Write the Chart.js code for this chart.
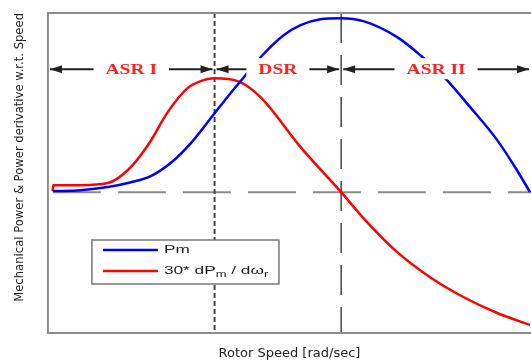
<!DOCTYPE html>
<html>
<head>
<meta charset="utf-8">
<script src="https://cdn.jsdelivr.net/npm/chart.js@4"></script>
<style>
html, body { margin: 0; padding: 0; background: #fff; overflow: hidden; }
#wrap { width: 531px; height: 360px; }
</style>
</head>
<body>
<div id="wrap"><canvas id="chart"></canvas></div>
<script>
// Data (x: rotor speed, normalised 0-100; y: normalised power)
const pmSpeed = [1.0, 6.8, 12.4, 17.2, 21.3, 25.4, 29.6, 34.5, 37.8, 40.9, 44.4, 48.8, 52.3, 56.4, 60.7, 65.3, 72.3, 77.1, 82.2, 87.4, 93.0, 97.1, 99.8];
const pm = [0.006, 0.011, 0.029, 0.057, 0.092, 0.167, 0.282, 0.454, 0.569, 0.672, 0.787, 0.902, 0.960, 0.994, 1.0, 0.983, 0.891, 0.787, 0.655, 0.489, 0.299, 0.126, 0.0];

const dPmSpeed = [1.0, 1.1, 6.8, 12.4, 16.5, 20.7, 24.8, 28.9, 31.6, 34.5, 39.3, 44.0, 52.3, 60.7, 65.3, 72.3, 79.1, 86.0, 93.0, 99.8];
const dPm = [0.006, 0.040, 0.040, 0.052, 0.126, 0.270, 0.460, 0.598, 0.638, 0.655, 0.638, 0.546, 0.259, 0.0, -0.149, -0.345, -0.489, -0.603, -0.695, -0.764];

const regionEdges = [0, 34.5, 60.7, 100];
const regionLabels = ['ASR I', 'DSR', 'ASR II'];
const legendLabels = ['Pm', '30* dP_m / d\u03c9_r'];
const legendColors = ['#0000ff', '#ff0000'];

const toPoints = (xs, ys) => xs.map((x, i) => ({ x, y: ys[i] }));

// draw text stretched horizontally; '_c' makes c a subscript
function drawStretched(ctx, text, x, y, size, family, sx, weight = '') {
	ctx.save();
	ctx.translate(x, y);
	ctx.scale(sx, 1);
	let cx = 0;
	for (let i = 0; i < text.length; i++) {
		let ch = text[i];
		let sub = false;
		if (ch === '_' && i + 1 < text.length) { sub = true; ch = text[++i]; }
		ctx.font = weight + ' ' + (sub ? size * 0.75 : size) + 'px ' + family;
		ctx.fillText(ch, cx, sub ? 4 : 0);
		cx += ctx.measureText(ch).width;
	}
	ctx.restore();
	return cx * sx;
}

const guides = {
	id: 'guides',
	beforeDatasetsDraw(chart) {
		const { ctx, chartArea: a, scales: { x, y } } = chart;
		ctx.save();
		const y0 = y.getPixelForValue(0);
		ctx.strokeStyle = '#8a8a8a';
		ctx.lineWidth = 2;
		ctx.setLineDash([48, 17]);
		ctx.beginPath();
		ctx.moveTo(a.left + 5, y0);
		ctx.lineTo(a.right, y0);
		ctx.stroke();

		ctx.strokeStyle = '#444';
		ctx.setLineDash([5, 3]);
		let px = x.getPixelForValue(regionEdges[1]);
		ctx.beginPath();
		ctx.moveTo(px, a.top);
		ctx.lineTo(px, a.bottom);
		ctx.stroke();

		ctx.lineWidth = 1.5;
		ctx.setLineDash([30, 12]);
		px = x.getPixelForValue(regionEdges[2]);
		ctx.beginPath();
		ctx.moveTo(px, a.top);
		ctx.lineTo(px, a.bottom);
		ctx.stroke();
		ctx.restore();
	},
	afterDatasetsDraw(chart) {
		const { ctx, chartArea: a, scales: { x, y } } = chart;
		ctx.save();

		// region arrows + labels
		const ay = y.getPixelForValue(0.707);
		const head = (tip, dir) => {
			ctx.beginPath();
			ctx.moveTo(tip, ay);
			ctx.lineTo(tip - dir * 12, ay - 4);
			ctx.lineTo(tip - dir * 12, ay + 4);
			ctx.closePath();
			ctx.fill();
		};
		regionLabels.forEach((label, i) => {
			const x1 = x.getPixelForValue(regionEdges[i]) + 2;
			const x2 = x.getPixelForValue(regionEdges[i + 1]) - 2;
			ctx.strokeStyle = '#222';
			ctx.fillStyle = '#222';
			ctx.lineWidth = 2;
			ctx.beginPath();
			ctx.moveTo(x1, ay);
			ctx.lineTo(x2, ay);
			ctx.stroke();
			head(x1, -1);
			head(x2, 1);

			ctx.font = 'bold 15px "Liberation Serif"';
			const w = ctx.measureText(label).width * 1.3;
			const cx = (x1 + x2) / 2;
			ctx.fillStyle = '#fff';
			ctx.fillRect(cx - w / 2 - 12, ay - 11, w + 24, 21);
			ctx.fillStyle = '#ff2020';
			ctx.textBaseline = 'middle';
			drawStretched(ctx, label, cx - w / 2, ay + 1, 15, '"Liberation Serif"', 1.3, 'bold');
		});

		// legend
		const lx = a.left + 44, ly = a.top + 227;
		ctx.fillStyle = '#fff';
		ctx.fillRect(lx, ly, 187, 44);
		ctx.strokeStyle = '#777';
		ctx.lineWidth = 1.5;
		ctx.strokeRect(lx, ly, 187, 44);
		legendLabels.forEach((label, i) => {
			const yy = ly + 10 + i * 21;
			ctx.strokeStyle = legendColors[i];
			ctx.lineWidth = 2.5;
			ctx.beginPath();
			ctx.moveTo(lx + 11, yy);
			ctx.lineTo(lx + 66, yy);
			ctx.stroke();
			ctx.fillStyle = '#222';
			ctx.textBaseline = 'middle';
			drawStretched(ctx, label, lx + 72, yy, 11.5, '"Liberation Sans"', 1.5);
		});

		// frame
		ctx.strokeStyle = '#8c8c8c';
		ctx.lineWidth = 2;
		ctx.beginPath();
		ctx.moveTo(a.right, a.top);
		ctx.lineTo(a.left, a.top);
		ctx.lineTo(a.left, a.bottom);
		ctx.lineTo(a.right, a.bottom);
		ctx.stroke();
		ctx.restore();
	}
};

new Chart(document.getElementById('chart'), {
	type: 'line',
	data: {
		datasets: [
			{
				label: 'Pm',
				data: toPoints(pmSpeed, pm),
				borderColor: '#0000ff',
				borderWidth: 2.5,
				pointRadius: 0,
				cubicInterpolationMode: 'monotone'
			},
			{
				label: '30* dPm / dωr',
				data: toPoints(dPmSpeed, dPm),
				borderColor: '#ff0000',
				borderWidth: 2.5,
				pointRadius: 0,
				cubicInterpolationMode: 'monotone'
			}
		]
	},
	options: {
		responsive: true,
		maintainAspectRatio: false,
		animation: false,
		layout: { padding: { top: 13, left: 0, right: 0, bottom: 0 } },
		plugins: {
			legend: { display: false },
			tooltip: { enabled: false }
		},
		scales: {
			x: {
				type: 'linear',
				min: 0,
				max: 100,
				ticks: { display: false },
				grid: { display: false, drawTicks: false },
				border: { display: false },
				title: {
					display: true,
					text: 'Rotor Speed [rad/sec]',
					color: '#222',
					font: { family: 'DejaVu Sans', size: 13, lineHeight: 1 },
					padding: { top: 14, bottom: 0 }
				}
			},
			y: {
				min: -0.81,
				max: 1.03,
				ticks: { display: false },
				grid: { display: false, drawTicks: false },
				border: { display: false },
				title: {
					display: true,
					text: 'Mechanical Power & Power derivative w.r.t. Speed',
					align: 'end',
					color: '#222',
					font: { family: 'DejaVu Sans', size: 11.6, lineHeight: 1.2 },
					padding: { top: 13, bottom: 21 }
				}
			}
		}
	},
	plugins: [guides]
});
</script>
</body>
</html>
